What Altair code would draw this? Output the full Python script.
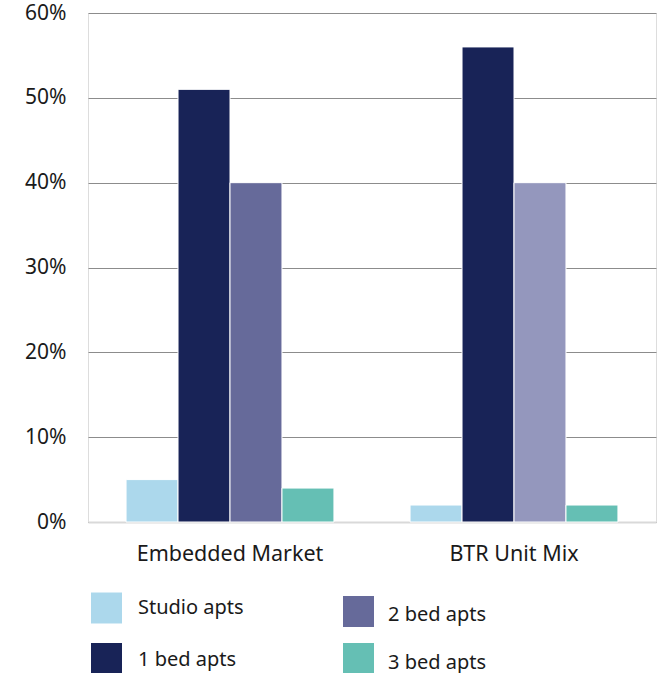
import altair as alt
import pandas as pd

categories = ["Embedded Market", "BTR Unit Mix"]
unit_types = ["Studio apts", "1 bed apts", "2 bed apts", "3 bed apts"]
embedded_values = [5, 51, 40, 4]
btr_values = [2, 56, 40, 2]
embedded_colors = ["#acd8ec", "#182357", "#666a9a", "#65bfb4"]
btr_colors = ["#acd8ec", "#182357", "#9497bd", "#65bfb4"]
legend_colors = ["#acd8ec", "#182357", "#666a9a", "#65bfb4"]
y_ticks = [0, 10, 20, 30, 40, 50, 60]

rows = []
for cat, vals, cols in [(categories[0], embedded_values, embedded_colors),
                        (categories[1], btr_values, btr_colors)]:
    for i, (u, v, c) in enumerate(zip(unit_types, vals, cols)):
        rows.append({"category": cat, "unit": u, "order": i, "value": v, "color": c})
df = pd.DataFrame(rows)

FONT = "Noto Sans"
TXT = "#1a1a1a"
W, H = 568, 509

bars = alt.Chart(df).mark_bar(stroke="white", strokeWidth=1).encode(
    x=alt.X("category:N", sort=categories, title=None,
            scale=alt.Scale(paddingInner=0.268, paddingOuter=0.134),
            axis=alt.Axis(labelAngle=0, labelFont=FONT, labelFontSize=21.5, labelColor=TXT,
                          labelPadding=21, labelLimit=0, ticks=False,
                          domainColor="#d9d9d9", domainWidth=2)),
    xOffset=alt.XOffset("unit:N", sort=unit_types, scale=alt.Scale(paddingInner=0.0)),
    y=alt.Y("value:Q", title=None, scale=alt.Scale(domain=[0, 60], nice=False),
            axis=alt.Axis(values=y_ticks, labelExpr="datum.value + '%'", labelFont=FONT,
                          labelFontSize=21, labelColor=TXT, labelPadding=22, labelLimit=0,
                          ticks=False, domain=False, gridColor="#8c8c8c", gridWidth=1)),
    color=alt.Color("color:N", scale=None),
)

# custom legend (two columns)
leg_pos = [(18.5, 595, 50, 595), (18.5, 645.5, 50, 646.5),
           (270.5, 598.5, 300, 602), (270.5, 645.5, 300, 649.5)]
legend_layers = []
for (label, col), (sx, sy, tx, ty) in zip(zip(unit_types, legend_colors), leg_pos):
    one = pd.DataFrame({"label": [label]})
    legend_layers.append(
        alt.Chart(one).mark_square(size=961, color=col, opacity=1).encode(
            x=alt.value(sx), y=alt.value(sy)))
    legend_layers.append(
        alt.Chart(one).mark_text(align="left", baseline="middle", font=FONT,
                                 fontSize=20, color=TXT).encode(
            x=alt.value(tx), y=alt.value(ty), text="label:N"))

chart = alt.layer(bars, *legend_layers).properties(
    width=W, height=H,
    autosize=alt.AutoSizeParams(type="none"),
    padding={"left": 88, "top": 13, "right": 8, "bottom": 151},
).configure_view(stroke=None).configure(background="white")

chart.save("out.html", embed_options={"renderer": "svg", "actions": False})
